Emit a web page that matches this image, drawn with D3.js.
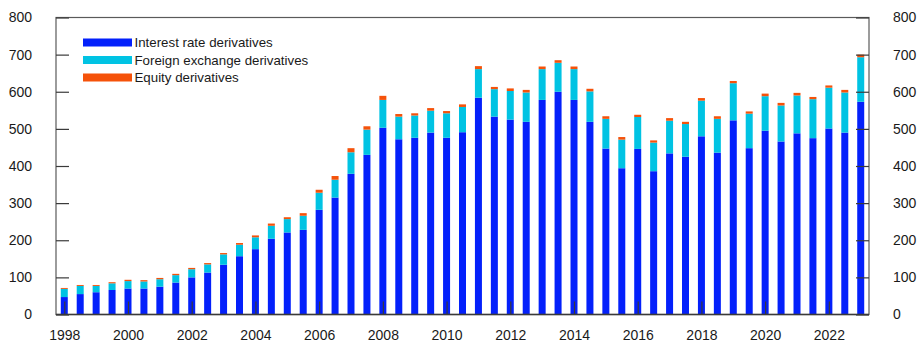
<!DOCTYPE html>
<html>
<head>
<meta charset="utf-8">
<script src="https://cdn.jsdelivr.net/npm/d3@7"></script>
<style>
  html, body { margin: 0; padding: 0; background: #fff; }
  svg text { font-family: "Liberation Sans", Arial, Helvetica, sans-serif; fill: #1a1a1a; }
</style>
</head>
<body>
<svg id="chart" width="919" height="342"></svg>
<script>
// Half-year periods, bars placed at the start of each half
const periods = [
  "1998 H1","1998 H2","1999 H1","1999 H2","2000 H1","2000 H2","2001 H1","2001 H2",
  "2002 H1","2002 H2","2003 H1","2003 H2","2004 H1","2004 H2","2005 H1","2005 H2",
  "2006 H1","2006 H2","2007 H1","2007 H2","2008 H1","2008 H2","2009 H1","2009 H2",
  "2010 H1","2010 H2","2011 H1","2011 H2","2012 H1","2012 H2","2013 H1","2013 H2",
  "2014 H1","2014 H2","2015 H1","2015 H2","2016 H1","2016 H2","2017 H1","2017 H2",
  "2018 H1","2018 H2","2019 H1","2019 H2","2020 H1","2020 H2","2021 H1","2021 H2",
  "2022 H1","2022 H2","2023 H1"
];

const interestRate = [
  47, 55, 60, 66, 70, 70, 75, 86, 100, 113, 134, 157,
  176, 204, 221, 228, 282, 315, 379, 430, 503, 472, 476, 490,
  476, 491, 584, 533, 525, 519, 578, 600, 578, 519, 447, 394,
  446, 386, 434, 425, 480, 436, 523, 448, 495, 466, 488, 475,
  501, 490, 573
];

const foreignExchange = [
  22, 22, 17, 18, 20, 19, 20, 20, 22, 22, 28, 31,
  32, 35, 36, 38, 46, 48, 58, 68, 75, 61, 60, 59,
  66, 68, 77, 74, 77, 79, 83, 78, 83, 82, 80, 77,
  86, 77, 88, 88, 96, 91, 100, 93, 93, 97, 102, 105,
  110, 108, 120
];

const equity = [
  2.5, 2.5, 2.5, 3, 3.5, 3.5, 3.5, 3.5, 3.5, 3.5, 3.5, 4.5,
  5, 6, 5, 7, 8, 10, 11, 9, 11, 7, 6, 7,
  6, 7, 8, 6, 7, 7, 7, 7, 7, 7, 7, 7,
  6, 6, 7, 6, 7, 7, 6, 6, 7, 7, 7, 6,
  6, 7, 7
];

const yTicks = [0, 100, 200, 300, 400, 500, 600, 700, 800];
const xTicks = [1998, 2000, 2002, 2004, 2006, 2008, 2010, 2012, 2014, 2016, 2018, 2020, 2022];

const seriesNames = ["Interest rate derivatives", "Foreign exchange derivatives", "Equity derivatives"];
const seriesKeys = ["ir", "fx", "eq"];
const colors = ["#0320fb", "#00c3e3", "#f5520a"];

const rows = periods.map((p, i) => ({
  t: +p.slice(0, 4) + (p.endsWith("H2") ? 0.5 : 0),
  ir: interestRate[i],
  fx: foreignExchange[i],
  eq: equity[i]
}));

const svg = d3.select("#chart");
const plotL = 56, plotR = 869, plotT = 17.5, plotB = 314.5;

const x = d3.scaleLinear().domain([1997.74, 2023.26]).range([plotL, plotR]);
const y = d3.scaleLinear().domain([0, 800]).range([plotB, plotT]);

const stacked = d3.stack().keys(seriesKeys)(rows);
const barW = 7;

svg.append("g")
  .selectAll("g")
  .data(stacked)
  .join("g")
  .attr("fill", (d, i) => colors[i])
  .selectAll("rect")
  .data(d => d)
  .join("rect")
  .attr("x", d => x(d.data.t) - barW / 2)
  .attr("width", barW)
  .attr("y", d => y(d[1]))
  .attr("height", d => y(d[0]) - y(d[1]));

// Frame
const frame = svg.append("g").attr("fill", "none");
frame.append("rect")
  .attr("x", plotL).attr("y", plotT)
  .attr("width", plotR - plotL).attr("height", plotB - plotT)
  .attr("stroke", "#5a5a5a").attr("stroke-width", 1.2);
frame.append("line")
  .attr("x1", plotL).attr("x2", plotR).attr("y1", plotB).attr("y2", plotB)
  .attr("stroke", "#3a3a3a").attr("stroke-width", 1.6);

// Left and right value axes with inward ticks
const tickLen = 13;
const leftAxis = d3.axisLeft(y).tickValues(yTicks).tickSize(-tickLen).tickPadding(24);
const rightAxis = d3.axisRight(y).tickValues(yTicks).tickSize(-tickLen).tickPadding(24);

function styleAxis(g) {
  g.select(".domain").remove();
  g.selectAll(".tick line").attr("stroke", "#3a3a3a").attr("stroke-width", 1.2);
  g.selectAll(".tick text").attr("font-size", 14).attr("fill", "#1a1a1a")
    .attr("font-family", '"Liberation Sans", Arial, Helvetica, sans-serif');
}

svg.append("g").attr("transform", `translate(${plotL},0)`).call(leftAxis).call(styleAxis);
svg.append("g").attr("transform", `translate(${plotR},0)`).call(rightAxis).call(styleAxis);

// Year axis with short upward ticks
const bottomAxis = d3.axisBottom(x).tickValues(xTicks).tickFormat(d3.format("d"))
  .tickSize(-tickLen).tickPadding(16);
svg.append("g").attr("transform", `translate(0,${plotB})`).call(bottomAxis).call(styleAxis);

// Legend
const legend = svg.append("g");
seriesNames.forEach((name, i) => {
  const cy = 42.5 + i * 17.5;
  legend.append("rect")
    .attr("x", 83).attr("y", cy - 4).attr("width", 49).attr("height", 8)
    .attr("fill", colors[i]);
  legend.append("text")
    .attr("x", 134.5).attr("y", cy).attr("dy", "0.35em")
    .attr("font-size", 13.3)
    .text(name);
});
</script>
</body>
</html>
